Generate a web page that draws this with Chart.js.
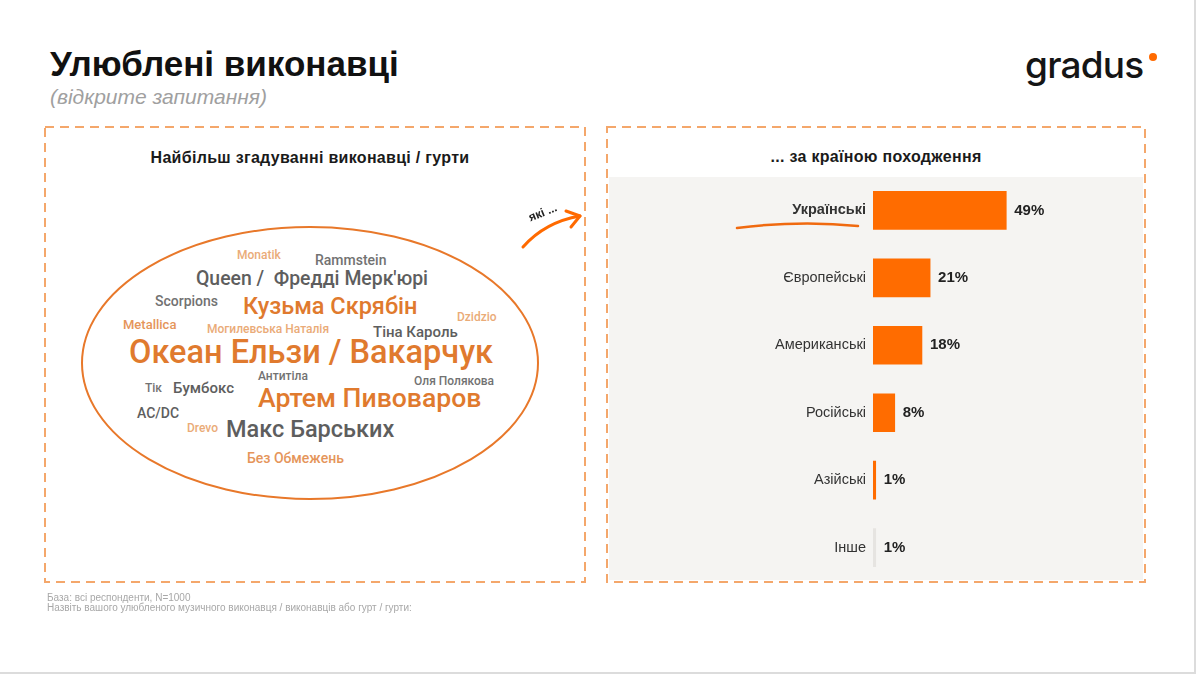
<!DOCTYPE html>
<html lang="uk">
<head>
<meta charset="utf-8">
<title>Улюблені виконавці</title>
<script src="https://cdn.jsdelivr.net/npm/chart.js@4.4.1/dist/chart.umd.min.js"></script>
<style>
    html, body { margin: 0; padding: 0; background: #fff; }
    #slide {
        position: relative;
        width: 1200px;
        height: 675px;
        overflow: hidden;
        font-family: 'Liberation Sans', Arial, sans-serif;
    }
    #slide .edge-r { position: absolute; left: 1194px; top: 0; width: 2px; height: 674px; background: #dcdcdc; }
    #slide .edge-b { position: absolute; left: 0; top: 672px; width: 1196px; height: 2px; background: #dcdcdc; }
    h1 {
        position: absolute; left: 50px; top: 44px; margin: 0;
        font-size: 35px; font-weight: bold; color: #111; line-height: 40px;
    }
    .subtitle {
        position: absolute; left: 50px; top: 85px;
        font-size: 21px; font-style: italic; color: #a0a0a0; line-height: 24px;
    }
    .logo {
        position: absolute; left: 1025px; top: 42px;
        font-family: Inter, 'Noto Sans', sans-serif; font-size: 37px; font-weight: 500;
        letter-spacing: -0.8px; color: #151515; line-height: 46px;
    }
    .panel-title {
        position: absolute; font-size: 16px; font-weight: bold; color: #1a1a1a;
        text-align: center; line-height: 18px; letter-spacing: 0.3px;
    }
    .gray-bg { position: absolute; left: 609px; top: 177px; width: 534px; height: 403px; background: #f5f4f2; }
    .cloud span {
        position: absolute; white-space: pre; line-height: 1;
        font-family: Roboto, sans-serif; font-weight: 500;
        transform: translateY(-50%);
    }
    .o1 { color: #e07a2e; }
    .o2 { color: #e5955a; }
    .o3 { color: #eaab78; }
    .g1 { color: #5e5e5e; }
    .g2 { color: #727272; }
    .note {
        position: absolute; left: 47px; font-size: 10px; color: #a8a8a8; line-height: 11px;
    }
    /* ось Y добавляет ~15px сверху и снизу, поэтому блок выше области графика */
    #chartBox { position: absolute; left: 607px; top: 161px; width: 538px; height: 436px; }
    svg.deco { position: absolute; left: 0; top: 0; pointer-events: none; }
</style>
</head>
<body>
<div id="slide">
    <div class="edge-r"></div>
    <div class="edge-b"></div>

    <h1>Улюблені виконавці</h1>
    <div class="subtitle">(відкрите запитання)</div>
    <div class="logo">gradus</div>

    <div class="gray-bg"></div>

    <div class="panel-title" style="left:45px; top:149px; width:530px;">Найбільш згадуванні виконавці / гурти</div>
    <div class="panel-title" style="left:607px; top:148px; width:538px;">... за країною походження</div>

    <div class="cloud">
        <span class="o3" style="left:237px; top:255px; font-size:12px;">Monatik</span>
        <span class="g2" style="left:315px; top:260px; font-size:14px;">Rammstein</span>
        <span class="g1" style="left:196px; top:279px; font-size:19.4px;">Queen /  Фредді Мерк'юрі</span>
        <span class="g2" style="left:155px; top:301px; font-size:14px;">Scorpions</span>
        <span class="o1" style="left:243px; top:307px; font-size:23.5px;">Кузьма Скрябін</span>
        <span class="o3" style="left:457px; top:317px; font-size:12px;">Dzidzio</span>
        <span class="o2" style="left:123px; top:324px; font-size:13px;">Metallica</span>
        <span class="o3" style="left:207px; top:329px; font-size:12px;">Могилевська Наталія</span>
        <span class="g1" style="left:373px; top:332px; font-size:15px;">Тіна Кароль</span>
        <span class="o1" style="left:129px; top:352px; font-size:32.5px;">Океан Ельзи / Вакарчук</span>
        <span class="g2" style="left:258px; top:376px; font-size:12px;">Антитіла</span>
        <span class="g2" style="left:414px; top:381px; font-size:12px;">Оля Полякова</span>
        <span class="g2" style="left:145px; top:388px; font-size:12px;">Тік</span>
        <span class="g1" style="left:173px; top:388px; font-size:15px;">Бумбокс</span>
        <span class="o1" style="left:258px; top:398px; font-size:26.6px;">Артем Пивоваров</span>
        <span class="g1" style="left:137px; top:413px; font-size:14px;">AC/DC</span>
        <span class="o3" style="left:187px; top:428px; font-size:12px;">Drevo</span>
        <span class="g1" style="left:226px; top:430px; font-size:23.5px;">Макс Барських</span>
        <span class="o2" style="left:247px; top:458px; font-size:14px;">Без Обмежень</span>
    </div>

    <div id="chartBox"><canvas id="originChart"></canvas></div>

    <svg class="deco" width="1200" height="675">
        <rect x="45" y="127" width="540" height="455" fill="none" stroke="#f4a76b" stroke-width="2" stroke-dasharray="9 6"/>
        <rect x="607" y="127" width="538" height="455" fill="none" stroke="#f4a76b" stroke-width="2" stroke-dasharray="9 6"/>
        <ellipse cx="310" cy="363" rx="228" ry="136" fill="none" stroke="#e8782a" stroke-width="2"/>
        <path d="M523 247 Q 545 222 580 216" fill="none" stroke="#ff6a00" stroke-width="3" stroke-linecap="round"/>
        <path d="M566 211 L580 216 L571 227" fill="none" stroke="#ff6a00" stroke-width="3" stroke-linecap="round" stroke-linejoin="round"/>
        <text x="543" y="213" transform="rotate(-22 543 213)" text-anchor="middle" dominant-baseline="middle"
              font-family="Liberation Sans, Arial, sans-serif" font-size="12" font-weight="bold" fill="#222">які ...</text>
        <path d="M737 228 Q 800 220 858 226" fill="none" stroke="#f06a10" stroke-width="2.5" stroke-linecap="round"/>
        <circle cx="1153" cy="57" r="4" fill="#ff6a00"/>
    </svg>

    <div class="note" style="top:592px;">База: всі респонденти, N=1000</div>
    <div class="note" style="top:602px;">Назвіть вашого улюбленого музичного виконавця / виконавців або гурт / гурти:</div>
</div>

<script>
const origins = ['Українські', 'Європейські', 'Американські', 'Російські', 'Азійські', 'Інше'];
const shares = [49, 21, 18, 8, 1, 1];
const barColors = ['#ff6c00', '#ff6c00', '#ff6c00', '#ff6c00', '#ff6c00', '#e6e4e1'];

// подписи значений справа от столбцов
const valueLabels = {
    id: 'valueLabels',
    afterDatasetsDraw(chart) {
        const ctx = chart.ctx;
        const meta = chart.getDatasetMeta(0);
        ctx.save();
        ctx.font = 'bold 15px "Liberation Sans", Arial, sans-serif';
        ctx.fillStyle = '#222';
        ctx.textAlign = 'left';
        ctx.textBaseline = 'middle';
        meta.data.forEach((bar, i) => {
            ctx.fillText(shares[i] + '%', bar.x + 8, bar.y);
        });
        ctx.restore();
    }
};

document.addEventListener('DOMContentLoaded', () => {
    const ctx = document.getElementById('originChart').getContext('2d');

    new Chart(ctx, {
        type: 'bar',
        data: {
            labels: origins,
            datasets: [{
                data: shares,
                backgroundColor: barColors,
                borderWidth: 0,
                barThickness: 38
            }]
        },
        options: {
            indexAxis: 'y',
            responsive: true,
            maintainAspectRatio: false,
            animation: false,
            layout: { padding: 0 },
            plugins: {
                legend: { display: false },
                tooltip: { enabled: false }
            },
            scales: {
                x: {
                    display: false,
                    min: 0,
                    max: 100
                },
                y: {
                    afterFit: (scale) => { scale.width = 266; },
                    grid: { display: false, drawTicks: false },
                    border: { display: false },
                    ticks: {
                        padding: 7,
                        color: '#333',
                        font: (c) => ({
                            family: '"Liberation Sans", Arial, sans-serif',
                            size: 14.5,
                            weight: c.index === 0 ? 'bold' : 'normal'
                        })
                    }
                }
            }
        },
        plugins: [valueLabels]
    });
});
</script>
</body>
</html>
